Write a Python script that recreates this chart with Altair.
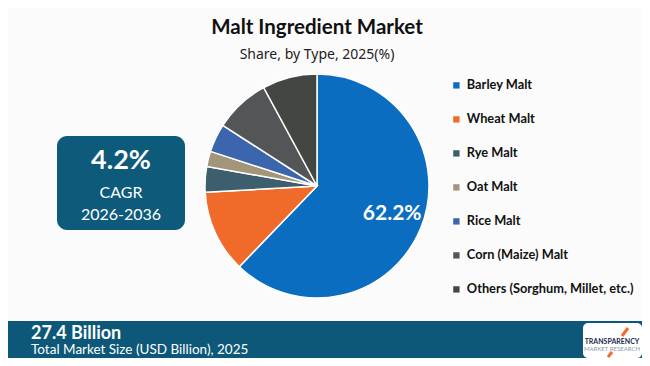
import altair as alt
import pandas as pd

# ---- data ----
categories = ["Barley Malt", "Wheat Malt", "Rye Malt", "Oat Malt", "Rice Malt",
              "Corn (Maize) Malt", "Others (Sorghum, Millet, etc.)"]
shares = [62.2, 11.9, 3.7, 2.2, 4.1, 8.0, 7.9]
labels = ["62.2%", "", "", "", "", "", ""]
colors = ["#0b6dbf", "#f06a2a", "#3d5e6c", "#a3957a", "#3b66ad", "#545557", "#424841"]

title_text = "Malt Ingredient Market"
subtitle_text = "Share, by Type, 2025(%)"
cagr_value = "4.2%"
cagr_label = "CAGR"
cagr_period = "2026-2036"
market_value = "27.4 Billion"
market_label = "Total Market Size (USD Billion), 2025"

df = pd.DataFrame({"category": categories, "share": shares, "label": labels,
                   "idx": list(range(len(categories)))})
one = pd.DataFrame({"a": [0]})

W, H = 634, 350
CX, CY, R = 309, 178, 112
FONT = "Lato"

color_scale = alt.Scale(domain=categories, range=colors)

pie = alt.Chart(df).mark_arc(radius=R, stroke="white", strokeWidth=1.5).encode(
    theta=alt.Theta("share:Q", stack=True),
    color=alt.Color("category:N", scale=color_scale, sort=categories,
                    legend=alt.Legend(orient="none", legendX=442, legendY=71, title=None,
                                      symbolType="square", symbolSize=40,
                                      symbolStrokeWidth=0,
                                      labelFont=FONT, labelFontSize=12.8,
                                      labelFontWeight="bold", labelColor="#111111",
                                      labelOffset=4, rowPadding=20, labelLimit=300)),
    order=alt.Order("idx:Q"),
    x=alt.value(CX), y=alt.value(CY),
)

pie_label = alt.Chart(df).mark_text(radius=80, font=FONT, fontSize=21, fontWeight="bold",
                                     color="white").encode(
    theta=alt.Theta("share:Q", stack=True),
    order=alt.Order("idx:Q"),
    text="label:N",
    x=alt.value(CX + 1), y=alt.value(CY - 2),
)

def txt(text, x, y, size, weight="normal", color="#111111", align="center", font=FONT):
    return alt.Chart(one).mark_text(text=text, fontSize=size, fontWeight=weight, color=color,
                                    align=align, baseline="middle", font=font).encode(
        x=alt.value(x), y=alt.value(y))

def box(x, y, x2, y2, color, radius=0):
    return alt.Chart(one).mark_rect(color=color, cornerRadius=radius).encode(
        x=alt.value(x), x2=alt.value(x2), y=alt.value(y), y2=alt.value(y2))

layers = [
    pie, pie_label,
    txt(title_text, 309, 20, 20.5, "bold"),
    txt(subtitle_text, 309, 47, 14, "normal", "#222222", font="Noto Sans"),
    box(49, 128, 177, 222, "#0d5a7a", 10),
    txt(cagr_value, 113, 153, 27, "bold", "white"),
    txt(cagr_label, 113, 185, 16, "normal", "white"),
    txt(cagr_period, 113, 207, 16, "normal", "white"),
    box(0, 313, W, H, "#0d5878"),
    txt(market_value, 23, 326, 18, "bold", "white", "left"),
    txt(market_label, 23, 342, 13.5, "normal", "white", "left"),
    box(575, 315, 634, 350, "white", 5),
    txt("TRANSPARENCY", 604, 334, 7, "bold", "#1b2a4a"),
    txt("MARKET RESEARCH", 604, 341, 6, "normal", "#8a9aaa"),
    alt.Chart(one).mark_rule(color="#f26b2a", strokeWidth=3).encode(
        x=alt.value(614), y=alt.value(328), x2=alt.value(620), y2=alt.value(320)),
    alt.Chart(one).mark_rule(color="#f26b2a", strokeWidth=3).encode(
        x=alt.value(600), y=alt.value(349), x2=alt.value(604), y2=alt.value(344)),
]

chart = alt.layer(*layers).properties(
    width=W, height=H, background="#fbfbfb", padding=0,
    autosize=alt.AutoSizeParams(type="none"),
).configure_view(stroke=None)

chart.save("out.html", embed_options={"renderer": "svg", "actions": False})
